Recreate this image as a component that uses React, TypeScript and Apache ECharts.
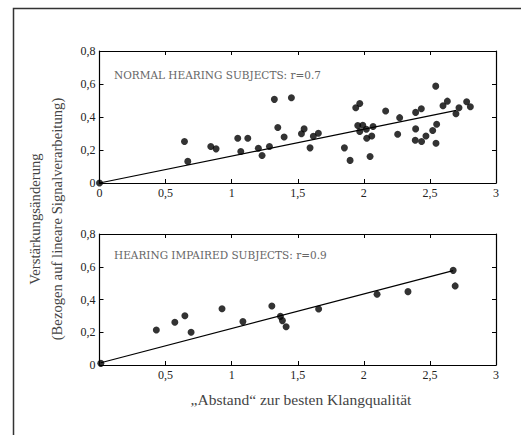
import React, { useEffect, useRef } from "react";
import * as echarts from "echarts";

// Normal hearing subjects
const normalX = [0, 0.643, 0.668, 0.842, 0.882, 1.046, 1.069, 1.122, 1.202, 1.23, 1.286, 1.323, 1.349, 1.397, 1.452, 1.528, 1.548, 1.593, 1.618, 1.656, 1.853, 1.896, 1.939, 1.969, 1.954, 1.969, 1.992, 2.019, 2.022, 2.047, 2.06, 2.07, 2.165, 2.256, 2.271, 2.392, 2.392, 2.389, 2.435, 2.437, 2.47, 2.521, 2.544, 2.551, 2.546, 2.599, 2.632, 2.697, 2.72, 2.778, 2.806];
const normalY = [0, 0.251, 0.131, 0.221, 0.207, 0.271, 0.191, 0.271, 0.211, 0.167, 0.221, 0.507, 0.336, 0.279, 0.517, 0.299, 0.328, 0.213, 0.283, 0.302, 0.213, 0.137, 0.456, 0.482, 0.348, 0.312, 0.35, 0.326, 0.271, 0.161, 0.285, 0.342, 0.436, 0.295, 0.396, 0.428, 0.328, 0.259, 0.45, 0.251, 0.285, 0.318, 0.587, 0.356, 0.241, 0.468, 0.496, 0.42, 0.456, 0.492, 0.462];
const normalFitX = [0, 2.7];
const normalFitY = [0, 0.44];

// Hearing impaired subjects
const impairedX = [0.01, 0.43, 0.57, 0.646, 0.693, 0.927, 1.085, 1.304, 1.369, 1.384, 1.412, 1.658, 2.1, 2.334, 2.676, 2.691];
const impairedY = [0.01, 0.214, 0.261, 0.301, 0.2, 0.344, 0.265, 0.36, 0.297, 0.271, 0.234, 0.342, 0.432, 0.448, 0.578, 0.483];
const impairedFitX = [0.01, 2.676];
const impairedFitY = [0.014, 0.576];

const xTickLabelsTop = ["0", "0,5", "1", "1,5", "2", "2,5", "3"];
const xTickLabelsBottom = ["", "0,5", "1", "1,5", "2", "2,5", "3"];
const yTickLabels = ["0", "0,2", "0,4", "0,6", "0,8"];

const normalLabel = "NORMAL HEARING SUBJECTS: r=0.7";
const impairedLabel = "HEARING IMPAIRED SUBJECTS: r=0.9";
const yTitle1 = "Verstärkungsänderung";
const yTitle2 = "(Bezogen auf lineare Signalverarbeitung)";
const xTitle = "„Abstand“ zur besten Klangqualität";

const FONT = "Liberation Serif";
const CAPS_FONT = "DejaVu Serif";

export default function App() {
  const ref = useRef<HTMLDivElement>(null);
  useEffect(() => {
    if (!ref.current) return;
    const chart = echarts.init(ref.current, undefined, { renderer: "svg" });
    const zip = (xs: number[], ys: number[]) => xs.map((x, i) => [x, ys[i]]);
    const lineStyle = { color: "#000", width: 1.2 };
    const mkX = (gridIndex: number, labels: string[] | null, position: "top" | "bottom") => ({
      type: "value",
      gridIndex,
      position,
      min: 0,
      max: 3,
      interval: 0.5,
      axisLine: { show: true, onZero: false, lineStyle },
      axisTick: { show: true, inside: true, length: 4, lineStyle: { color: "#000" } },
      axisLabel: labels
        ? {
            show: true,
            margin: 4,
            color: "#222",
            fontFamily: FONT,
            fontSize: 12,
            formatter: (v: number) => labels[Math.round(v / 0.5)] ?? "",
          }
        : { show: false },
      splitLine: { show: false },
    });
    const mkY = (gridIndex: number, showLabels: boolean, position: "left" | "right") => ({
      type: "value",
      gridIndex,
      position,
      min: 0,
      max: 0.8,
      interval: 0.2,
      axisLine: { show: true, onZero: false, lineStyle },
      axisTick: { show: true, inside: true, length: 4, lineStyle: { color: "#000" } },
      axisLabel: showLabels
        ? {
            show: true,
            margin: 4,
            color: "#222",
            fontFamily: FONT,
            fontSize: 12,
            formatter: (v: number) => yTickLabels[Math.round(v / 0.2)] ?? "",
          }
        : { show: false },
      splitLine: { show: false },
    });
    chart.setOption({
      animation: false,
      grid: [
        { left: 99.5, top: 51, width: 396.5, height: 132 },
        { left: 99.5, top: 234, width: 396.5, height: 131 },
      ],
      xAxis: [
        mkX(0, xTickLabelsTop, "bottom"),
        mkX(0, null, "top"),
        mkX(1, xTickLabelsBottom, "bottom"),
        mkX(1, null, "top"),
      ],
      yAxis: [
        mkY(0, true, "left"),
        mkY(0, false, "right"),
        mkY(1, true, "left"),
        mkY(1, false, "right"),
      ],
      series: [
        {
          type: "line",
          xAxisIndex: 0,
          yAxisIndex: 0,
          data: zip(normalFitX, normalFitY),
          symbol: "none",
          lineStyle: { color: "#000", width: 1.2 },
          clip: false,
        },
        {
          type: "scatter",
          xAxisIndex: 0,
          yAxisIndex: 0,
          data: zip(normalX, normalY),
          symbolSize: 7,
          itemStyle: { color: "#000" },
          clip: false,
        },
        {
          type: "line",
          xAxisIndex: 2,
          yAxisIndex: 2,
          data: zip(impairedFitX, impairedFitY),
          symbol: "none",
          lineStyle: { color: "#000", width: 1.2 },
          clip: false,
        },
        {
          type: "scatter",
          xAxisIndex: 2,
          yAxisIndex: 2,
          data: zip(impairedX, impairedY),
          symbolSize: 7,
          itemStyle: { color: "#000" },
          clip: false,
        },
      ],
      graphic: [
        {
          type: "rect",
          shape: { x: 13.5, y: 8.5, width: 600, height: 500 },
          style: { fill: "none", stroke: "#333", lineWidth: 1.5 },
          silent: true,
        },
        {
          type: "text",
          x: 114,
          y: 75,
          style: {
            text: normalLabel,
            fontFamily: CAPS_FONT,
            fontSize: 10.5,
            fill: "#666",
            textAlign: "left",
            textVerticalAlign: "middle",
          },
        },
        {
          type: "text",
          x: 114,
          y: 255,
          style: {
            text: impairedLabel,
            fontFamily: CAPS_FONT,
            fontSize: 10.5,
            fill: "#666",
            textAlign: "left",
            textVerticalAlign: "middle",
          },
        },
        {
          type: "text",
          x: 35,
          y: 219,
          rotation: Math.PI / 2,
          style: {
            text: yTitle1,
            fontFamily: FONT,
            fontSize: 14.7,
            fill: "#444",
            textAlign: "center",
            textVerticalAlign: "middle",
          },
        },
        {
          type: "text",
          x: 57,
          y: 219,
          rotation: Math.PI / 2,
          style: {
            text: yTitle2,
            fontFamily: FONT,
            fontSize: 14.7,
            fill: "#444",
            textAlign: "center",
            textVerticalAlign: "middle",
          },
        },
        {
          type: "text",
          x: 301,
          y: 399,
          style: {
            text: xTitle,
            fontFamily: FONT,
            fontSize: 15.5,
            fill: "#444",
            textAlign: "center",
            textVerticalAlign: "middle",
          },
        },
      ],
    });
    return () => chart.dispose();
  }, []);
  return (
    <div
      ref={ref}
      style={{ position: "absolute", left: 0, top: 0, width: 521, height: 435, background: "#fff" }}
    />
  );
}
